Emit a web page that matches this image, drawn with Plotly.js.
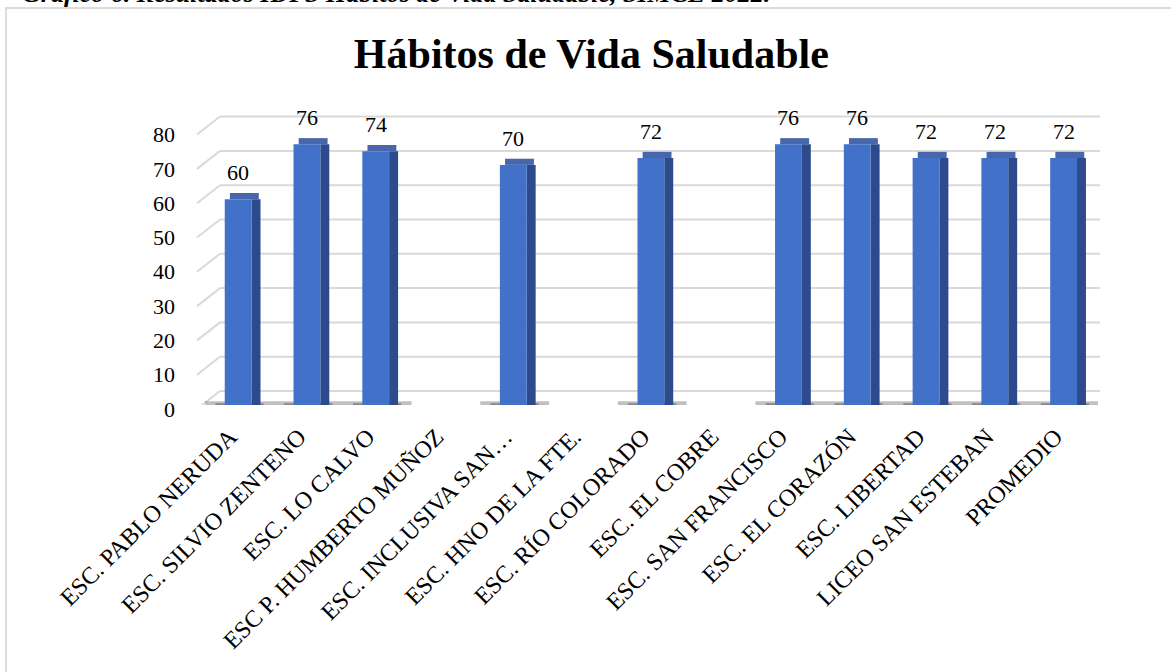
<!DOCTYPE html>
<html>
<head>
<meta charset="utf-8">
<script src="https://cdn.plot.ly/plotly-3.0.1.min.js"></script>
<style>
  html, body { margin: 0; padding: 0; background: #ffffff; }
  #wrap { position: relative; width: 1171px; height: 672px; overflow: hidden; }
  #frame { position: absolute; left: 5px; top: 7px; right: 0; bottom: 0;
           border-left: 2px solid #dcdcdc; border-top: 2px solid #dcdcdc; }
  #chart { position: absolute; left: 0; top: 0; width: 1171px; height: 672px; }
</style>
</head>
<body>
<div id="wrap">
  <div id="frame"></div>
  <div id="chart"></div>
</div>
<script>
const categories = [
  "ESC. PABLO NERUDA",
  "ESC. SILVIO ZENTENO",
  "ESC. LO CALVO",
  "ESC P. HUMBERTO MUÑOZ",
  "ESC. INCLUSIVA SAN…",
  "ESC. HNO DE LA FTE.",
  "ESC. RÍO COLORADO",
  "ESC. EL COBRE",
  "ESC. SAN FRANCISCO",
  "ESC. EL CORAZÓN",
  "ESC. LIBERTAD",
  "LICEO SAN ESTEBAN",
  "PROMEDIO"
];
const values = [60, 76, 74, null, 70, null, 72, null, 76, 76, 72, 72, 72];
const yTicks = [0, 10, 20, 30, 40, 50, 60, 70, 80];
const chartTitle = "Hábitos de Vida Saludable";
const caption = "Gráfico 6. Resultados IDPS Hábitos de Vida Saludable, SIMCE 2022.";

const serif = "Liberation Serif, Times New Roman, serif";
const capDepth = 1.8; // visual depth of the 3D top face (style only)
const gridColor = "#d9d9d9";

const present = values.map(v => v !== null);

const shadow = {
  type: "bar", x: categories,
  y: present.map(p => p ? 2.2 : null),
  base: present.map(p => p ? -1.1 : null),
  width: 1.0, offset: -0.48,
  marker: { color: "rgba(45,45,45,0.30)", line: { width: 0 } },
  cliponaxis: false,
  hoverinfo: "skip", showlegend: false
};
const shadowCore = {
  type: "bar", x: categories,
  y: present.map(p => p ? 1.0 : null),
  base: present.map(p => p ? -0.5 : null),
  width: 0.7, offset: -0.33,
  marker: { color: "rgba(30,30,30,0.35)", line: { width: 0 } },
  cliponaxis: false,
  hoverinfo: "skip", showlegend: false
};
const side = {
  type: "bar", x: categories, y: values,
  width: 0.13, offset: 0.195,
  marker: { color: "#2c4a8c", line: { width: 0 } },
  hoverinfo: "skip", showlegend: false
};
const cap = {
  type: "bar", x: categories,
  y: values.map(v => v === null ? null : capDepth),
  base: values,
  width: 0.42, offset: -0.12,
  marker: { color: "#4866ac", line: { width: 0 } },
  hoverinfo: "skip", showlegend: false
};
const front = {
  type: "bar", x: categories, y: values,
  width: 0.39, offset: -0.195,
  marker: { color: "#4171c9", line: { width: 0 } },
  showlegend: false
};

// back-wall gridlines with a short perspective segment on the left
const shapes = [];
yTicks.forEach(v => {
  shapes.push({
    type: "line", layer: "below",
    xref: "paper", xsizemode: "pixel", xanchor: 0, x0: 30, x1: 910,
    yref: "y", ysizemode: "pixel", yanchor: v, y0: 14, y1: 14,
    line: { color: gridColor, width: 2 }
  });
  shapes.push({
    type: "line", layer: "below",
    xref: "paper", xsizemode: "pixel", xanchor: 0, x0: 30, x1: 7,
    yref: "y", ysizemode: "pixel", yanchor: v, y0: 14, y1: -4,
    line: { color: gridColor, width: 2 }
  });
});
// front edge of the floor
shapes.push({
  type: "line", layer: "below",
  xref: "paper", xsizemode: "pixel", xanchor: 0, x0: 7, x1: 902,
  yref: "y", ysizemode: "pixel", yanchor: 0, y0: -4, y1: -4,
  line: { color: "#d0d0d0", width: 2 }
});

const labelAnnotations = categories.map((c, i) => values[i] === null ? null : ({
  x: c, y: values[i], xref: "x", yref: "y",
  text: String(values[i]),
  showarrow: false, xanchor: "center", yanchor: "bottom", yshift: 12,
  font: { family: serif, size: 22, color: "#000000" }
})).filter(a => a !== null);

const layout = {
  width: 1171, height: 672,
  paper_bgcolor: "rgba(0,0,0,0)",
  plot_bgcolor: "rgba(0,0,0,0)",
  margin: { l: 190, r: 73, t: 110, b: 267 },
  barmode: "overlay",
  title: {
    text: "<b>" + chartTitle + "</b>",
    font: { family: serif, size: 42, color: "#000000" },
    x: 0.505, xanchor: "center",
    yref: "container", y: 0.921, yanchor: "middle"
  },
  xaxis: {
    type: "category",
    range: [-0.7, 12.5],
    tickangle: -45,
    tickfont: { family: serif, size: 24, color: "#000000" },
    showgrid: false, showline: false, ticks: "", zeroline: false,
    ticklabelstandoff: 12,
    ticklabelshift: -8,
    fixedrange: true
  },
  yaxis: {
    range: [0, 86],
    tickvals: yTicks,
    tickfont: { family: serif, size: 22, color: "#000000" },
    showgrid: false, zeroline: false,
    showline: false, ticks: "",
    ticklabelstandoff: 14,
    ticklabelshift: 4,
    fixedrange: true
  },
  shapes: shapes,
  annotations: [{
    text: "<b><i>" + caption + "</i></b>",
    xref: "paper", yref: "paper", x: 0, y: 1,
    xanchor: "left", yanchor: "bottom",
    xshift: -170, yshift: 100,
    showarrow: false,
    font: { family: serif, size: 26, color: "#000000" }
  }].concat(labelAnnotations),
  font: { family: serif }
};

Plotly.newPlot("chart", [shadow, shadowCore, side, cap, front], layout, { displayModeBar: false, staticPlot: true });
</script>
</body>
</html>
